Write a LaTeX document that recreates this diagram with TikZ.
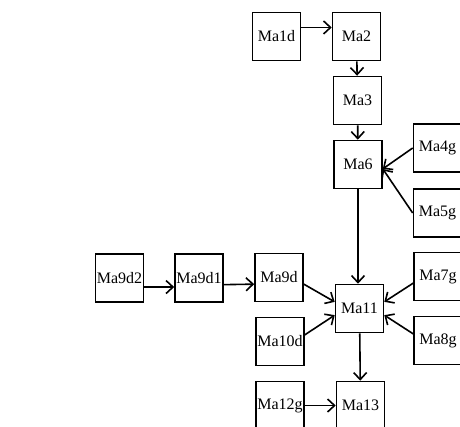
\documentclass[tikz,border=0pt]{standalone}
\usepackage{fontspec}
\setmainfont{Liberation Serif}
\usetikzlibrary{arrows.meta}

\tikzstyle{stage} = [rectangle, draw, line width=1.6pt, fill=white,
minimum width=48pt, minimum height=48pt, align=center, inner sep=0pt, font=\fontsize{16}{17}\selectfont]
\tikzstyle{arrow} = [line width=1.6pt,-{Straight Barb[length=7pt,width=13pt,line width=1.6pt]},draw]

\begin{document}
\begin{tikzpicture}[x=1pt,y=-1pt]

\useasboundingbox (0,0) rectangle (460,426);
\clip (0,0) rectangle (460,426);

% Top chain
\node[stage](Ma1d) at (276.5,36.5) {Ma1d};
\node[stage](Ma2) at (356.5,36.5) {Ma2};
\node[stage](Ma3) at (357.5,100.5) {Ma3};
\node[stage](Ma6) at (358,164.5) {Ma6};
\node[stage](Ma4g) at (437.5,148) {Ma4g};
\node[stage](Ma5g) at (437.5,213) {Ma5g};

% Left chain
\node[stage](Ma9d2) at (119.5,278) {Ma9d2};
\node[stage](Ma9d1) at (199,278) {Ma9d1};
\node[stage](Ma9d) at (279,277.5) {Ma9d};
\node[stage](Ma10d) at (280,341.5) {Ma10d};

% Centre and right
\node[stage](Ma11) at (359.5,308.5) {Ma11};
\node[stage](Ma7g) at (438,276.5) {Ma7g};
\node[stage](Ma8g) at (438,340.5) {Ma8g};

% Bottom
\node[stage](Ma12g) at (280,405.5) {Ma12g};
\node[stage](Ma13) at (360.5,405.5) {Ma13};

% Arrows
\path[arrow] (Ma1d.20) -- (Ma2.160);
\path[arrow] (Ma2) -- (Ma3);
\path[arrow] (Ma3) -- (Ma6);
\path[arrow] (Ma4g.west) -- (Ma6.-10);
\path[arrow] (Ma5g.west) -- (Ma6.-10);
\path[arrow] (Ma6.south) -- (Ma6.south |- Ma11.north);
\path[arrow] (Ma9d2.-20) -- (Ma9d1.200);
\path[arrow] (Ma9d1.-15) -- (Ma9d.195);
\path[arrow] (Ma9d.-15) -- (Ma11.165);
\path[arrow] (Ma10d.15) -- (Ma11.195);
\path[arrow] (Ma7g.195) -- (Ma11.15);
\path[arrow] (Ma8g.165) -- (Ma11.-15);
\path[arrow] (Ma11) -- (Ma13);
\path[arrow] (Ma12g) -- (Ma13);

\end{tikzpicture}
\end{document}
